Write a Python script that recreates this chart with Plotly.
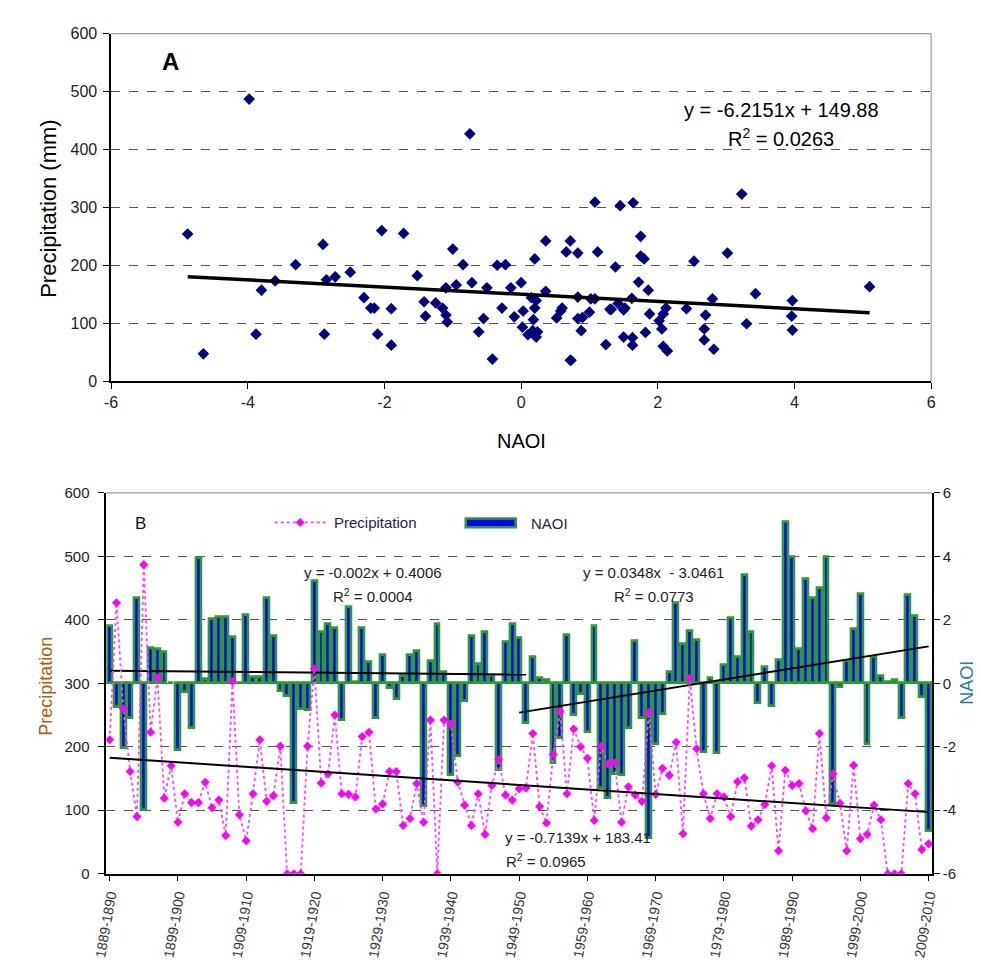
import plotly.graph_objects as go

# ---------------- data ----------------
winters = [f"{y}-{y+1}" for y in range(1889, 2010)]

precip = [211, 427, 260, 161, 90, 487, 223, 309, 119, 170,
          81, 126, 112, 112, 144, 104, 116, 60, 303, 93,
          52, 126, 211, 114, 123, 201, 0, 0, 0, 201,
          323, 143, 157, 250, 126, 125, 121, 216, 223, 102,
          110, 161, 161, 76, 87, 142, 81, 242, 0, 242,
          236, 144, 108, 76, 126, 62, 139, 180, 124, 116,
          134, 135, 221, 106, 80, 188, 255, 126, 228, 200,
          182, 84, 201, 173, 175, 81, 137, 124, 114, 254,
          125, 166, 155, 207, 63, 308, 197, 126, 87, 126,
          121, 90, 145, 151, 75, 85, 109, 170, 36, 163,
          139, 142, 99, 71, 221, 88, 157, 111, 36, 171,
          55, 62, 108, 85, 0, 0, 0, 142, 126, 38,
          47]

naoi = [1.8, -0.75, -2.04, -1.1, 2.68, -3.98, 1.12, 1.08, 1.0, 0.0,
        -2.1, -0.28, -1.4, 3.96, 0.15, 2.02, 2.08, 2.08, 1.45, 0.02,
        2.14, 0.2, 0.2, 2.7, 1.5, -0.23, -0.41, -3.78, -0.8, -0.85,
        3.23, 1.62, 1.86, 1.75, -1.15, 2.42, 0.03, 1.75, 0.66, -1.08,
        0.9, -0.15, -0.5, 0.22, 0.88, 1.02, -3.88, 0.72, 1.86, 0.36,
        -2.9, -2.3, -0.55, 1.5, 0.6, 1.63, 0.22, -2.72, 1.3, 1.88,
        1.42, -1.25, 0.83, 0.18, 0.1, -2.5, -1.72, 1.52, -1.0, -0.35,
        -1.52, 1.82, -3.3, -3.6, -2.85, -2.88, -1.42, 1.32, -1.1, -4.88,
        -1.9, -0.95, 0.36, 2.53, 1.24, 1.64, 1.38, -2.15, 0.17, -2.2,
        0.58, 2.06, 0.83, 3.43, 1.63, -0.62, 0.52, -0.72, 0.73, 5.1,
        3.97, 1.08, 3.3, 2.68, 3.02, 3.97, -3.8, -0.1, 0.72, 1.72,
        2.82, -1.9, 0.83, 0.24, 0.05, 0.12, -1.1, 2.8, 2.12, -0.42,
        -4.65]

# axis tick values / labels
a_xticks = [-6, -4, -2, 0, 2, 4, 6]
a_xlabels = ["-6", "-4", "-2", "0", "2", "4", "6"]
b_naoi_ticks = [-6, -4, -2, 0, 2, 4, 6]
b_naoi_labels = ["-6", "-4", "-2", "0", "2", "4", "6"]

# trend equations as printed on the chart
trend_a = (-6.2151, 149.88)
trend_naoi_1 = (-0.002, 0.4006)     # first half of record
trend_naoi_2 = (0.0348, -3.0461)    # second half of record
trend_precip = (-0.7139, 183.41)

idx = list(range(len(winters)))

# pairs used in the scatter (missing winters plotted as 0 in B are left out)
sc_x = [n for n, p in zip(naoi, precip) if p > 0]
sc_y = [p for p in precip if p > 0]

# ---------------- layout helpers ----------------
W, H = 981, 964
def px(x):
    return x / W
def py(y):
    return 1 - y / H

FONT = "Liberation Sans, Arial, sans-serif"
fig = go.Figure()

# ---------------- panel A ----------------
fig.add_trace(go.Scatter(x=sc_x, y=sc_y, mode="markers", xaxis="x", yaxis="y",
                         marker=dict(symbol="diamond", size=9, color="#000080"),
                         showlegend=False))
xa = [min(sc_x), max(sc_x)]
fig.add_trace(go.Scatter(x=xa, y=[trend_a[0] * v + trend_a[1] for v in xa],
                         mode="lines", xaxis="x", yaxis="y",
                         line=dict(color="black", width=3.5), showlegend=False))

# ---------------- panel B ----------------
fig.add_trace(go.Bar(x=idx, y=naoi, xaxis="x2", yaxis="y2", width=0.72,
                     marker=dict(color="#0000FF", line=dict(color="#2f9a2f", width=2.6)),
                     showlegend=False))
seg1 = idx[:62]
seg2 = idx[60:]
fig.add_trace(go.Scatter(x=[seg1[0], seg1[-1]],
                         y=[trend_naoi_1[0] * (i + 1) + trend_naoi_1[1] for i in (seg1[0], seg1[-1])],
                         mode="lines", xaxis="x2", yaxis="y2",
                         line=dict(color="black", width=2), showlegend=False))
fig.add_trace(go.Scatter(x=[seg2[0], seg2[-1]],
                         y=[trend_naoi_2[0] * (i + 1) + trend_naoi_2[1] for i in (seg2[0], seg2[-1])],
                         mode="lines", xaxis="x2", yaxis="y2",
                         line=dict(color="black", width=2), showlegend=False))
fig.add_trace(go.Scatter(x=idx, y=precip, mode="lines+markers", xaxis="x2", yaxis="y3",
                         line=dict(color="#FF44FF", width=1.8, dash="dot"),
                         marker=dict(symbol="diamond", size=7, color="#FF00FF"),
                         showlegend=False))
fig.add_trace(go.Scatter(x=[idx[0], idx[-1]],
                         y=[trend_precip[0] * (i + 1) + trend_precip[1] for i in (idx[0], idx[-1])],
                         mode="lines", xaxis="x2", yaxis="y3",
                         line=dict(color="black", width=2), showlegend=False))

tickfont = dict(family=FONT, size=15, color="#222")
grid = dict(showgrid=True, gridcolor="#555", griddash="dash", gridwidth=1)

fig.update_layout(
    width=W, height=H, margin=dict(l=0, r=0, t=0, b=0),
    paper_bgcolor="white", plot_bgcolor="white",
    font=dict(family=FONT, color="#222"),
    bargap=0,
    xaxis=dict(domain=[px(91), px(928)], range=[-6, 6], tickvals=a_xticks, ticktext=a_xlabels,
               anchor="y", showline=True, linecolor="black", linewidth=1.5,
               ticks="outside", ticklen=6, tickcolor="black", showgrid=False,
               zeroline=False, tickfont=dict(family=FONT, size=16, color="#222")),
    yaxis=dict(domain=[py(371), py(17)], range=[0, 600], dtick=100, anchor="x",
               showline=True, linecolor="black", linewidth=1.5, ticks="outside",
               ticklen=6, tickcolor="black", zeroline=False, ticklabelstandoff=3,
               tickfont=dict(family=FONT, size=16, color="#222"), **grid),
    xaxis2=dict(domain=[px(86), px(929)], range=[-0.5, 120.5],
                tickvals=idx[::10], ticktext=winters[::10], tickangle=-80,
                anchor="y2", showline=True, linecolor="black", linewidth=1.5,
                ticks="outside", ticklen=6, tickcolor="black", showgrid=False,
                zeroline=False, tickfont=dict(family=FONT, size=14, color="#333")),
    yaxis2=dict(domain=[py(873), py(485)], range=[-6, 6], tickvals=b_naoi_ticks,
                ticktext=b_naoi_labels, side="right",
                anchor="x2", showline=True, linecolor="black", linewidth=1.5,
                ticks="outside", ticklen=6, tickcolor="black", zeroline=False,
                tickfont=tickfont, **grid),
    yaxis3=dict(range=[0, 600], dtick=100, overlaying="y2", side="left", anchor="x2",
                showline=True, linecolor="black", linewidth=1.5, ticks="outside",
                ticklen=6, tickcolor="black", showgrid=False, zeroline=False,
                ticklabelstandoff=6, tickfont=tickfont),
)

# plot-area frames (light grey top/right)
for x0, x1, y0, y1 in [(91, 928, 17, 371), (86, 929, 485, 873)]:
    fig.add_shape(type="line", xref="paper", yref="paper", x0=px(x0), x1=px(x1),
                  y0=py(y0), y1=py(y0), line=dict(color="#999", width=1.2))
fig.add_shape(type="line", xref="paper", yref="paper", x0=px(928), x1=px(928),
              y0=py(17), y1=py(371), line=dict(color="#999", width=1.2))

# legend of panel B (drawn by hand to imitate the original key)
fig.add_shape(type="line", xref="paper", yref="paper", x0=px(258), x1=px(310),
              y0=py(515), y1=py(515), line=dict(color="#FF44FF", width=1.8, dash="dot"))
d = 4.5
fig.add_shape(type="path", xref="paper", yref="paper",
              path=f"M {px(284)},{py(515 - d)} L {px(284 + d)},{py(515)} L {px(284)},{py(515 + d)} L {px(284 - d)},{py(515)} Z",
              fillcolor="#FF00FF", line=dict(color="#FF00FF", width=0))
fig.add_shape(type="rect", xref="paper", yref="paper", x0=px(453), x1=px(504),
              y0=py(520), y1=py(511), fillcolor="#0000FF",
              line=dict(color="#2f9a2f", width=2.6))


def note(text, x, y, size=15, color="#222", bold=False, angle=0, xanchor="center"):
    if bold:
        text = f"<b>{text}</b>"
    fig.add_annotation(text=text, xref="paper", yref="paper", x=px(x), y=py(y),
                       showarrow=False, textangle=angle, xanchor=xanchor, yanchor="middle",
                       font=dict(family=FONT, size=size, color=color))


# panel A texts
note("A", 152, 45, size=24, color="black", bold=True)
note("y = -6.2151x + 149.88", 775, 95, size=20, color="black")
note("R<sup>2</sup> = 0.0263", 775, 123, size=20, color="black")
note("NAOI", 510, 432, size=20, color="black")
note("Precipitation (mm)", 27, 195, size=22, color="black", angle=-90)

# panel B texts
note("B", 121, 516, size=17, color="#111")
note("Precipitation", 316, 515, size=15, color="#302040", xanchor="left")
note("NAOI", 518, 516, size=15, color="#302040", xanchor="left")
note("y = -0.002x + 0.4006", 358, 566, size=15)
note("R<sup>2</sup> = 0.0004", 358, 590, size=15)
note("y = 0.0348x  - 3.0461", 645, 566, size=15)
note("R<sup>2</sup> = 0.0773", 645, 590, size=15)
note("y = -0.7139x + 183.41", 568, 836, size=15)
note("R<sup>2</sup> = 0.0965", 535, 860, size=15)
note("Precipitation", 25, 682, size=18, color="#B05A10", angle=-90)
note("NAOI", 965, 678, size=18, color="#2A7F95", angle=-90)

fig.write_html("out.html")
